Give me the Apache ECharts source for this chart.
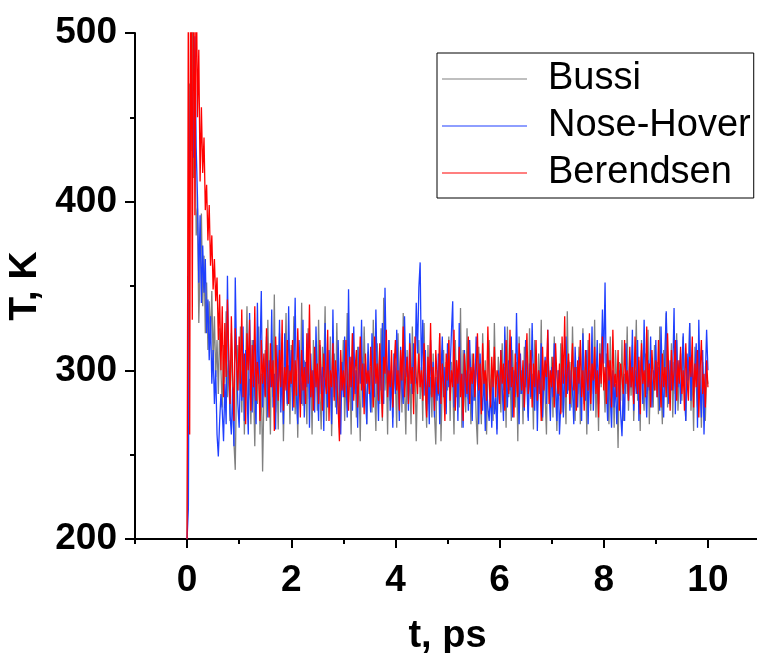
<!DOCTYPE html>
<html><head><meta charset="utf-8">
<script src="https://cdn.jsdelivr.net/npm/echarts@6/dist/echarts.min.js"></script>
<style>html,body{margin:0;padding:0;background:#fff}#c{width:757px;height:653px}</style>
</head><body><div id="c"></div>
<script>
// sampling step of the time axis, ps
const DT = 0.025;
// Bussi thermostat temperature, K (one row = 0.5 ps)
const bussi = [
200,330,470,430,505,414,455,380,396,328,362,393,338,368,322,352,312,341,318,347,
305,332,296,318,286,325,300,278,315,292,335,284,306,270,322,290,257,241,298,315,
288,326,275,310,262,300,338,281,295,268,318,290,255,305,280,326,262,298,240,284,
312,270,330,295,262,318,284,345,275,300,265,322,288,308,258,296,334,279,303,268,
315,287,332,274,298,260,312,285,340,279,306,292,268,325,283,301,262,318,290,307,
276,330,288,265,314,296,338,270,302,283,320,261,294,310,278,328,287,266,305,292,
318,270,296,334,281,305,262,322,289,300,272,314,295,258,308,284,326,293,268,311,
286,302,275,330,290,264,316,298,280,325,270,343,288,305,262,318,282,300,272,310,
294,266,322,285,308,275,334,290,262,312,280,300,268,326,287,305,258,296,318,283,
302,270,328,288,266,315,280,296,272,310,274,256,300,285,322,258,293,312,276,305,
288,320,270,305,292,262,318,284,300,278,337,266,312,290,275,325,283,298,268,310,
282,300,272,256,314,290,268,322,285,306,262,296,318,280,300,270,328,288,265,308,
295,275,316,288,302,266,326,284,298,270,312,290,278,305,258,320,286,300,268,314,
290,305,272,325,283,298,265,318,292,276,310,286,330,270,300,284,262,316,294,280,
308,272,320,290,264,300,285,316,275,298,296,268,335,288,305,278,326,290,270,302,
286,314,268,298,325,280,302,262,318,292,276,308,286,330,272,300,264,316,290,322,
296,275,310,288,268,320,284,300,266,312,292,254,305,282,318,270,298,286,326,276,
302,285,315,270,296,330,282,306,264,318,290,276,310,286,324,268,300,292,278,315,
288,305,274,326,292,268,312,284,334,278,300,290,316,272,305,286,322,276,298,310,
282,320,294,270,306,288,328,276,300,264,314,290,278,318,296,266,305,284,270,298,
292];
// Nose-Hover thermostat temperature, K
const noseHover = [
200,218,430,480,458,426,498,432,402,352,392,340,374,346,366,322,342,306,332,292,
312,280,300,262,249,270,286,276,258,292,268,356,300,274,262,290,255,355,308,280,
266,300,282,326,270,312,288,262,334,295,275,318,285,268,340,292,310,347,278,300,
285,320,272,306,290,336,278,298,265,315,288,330,275,302,268,322,294,280,338,290,
312,276,300,343,285,268,318,296,280,330,272,305,290,322,266,310,284,300,275,326,
292,270,315,286,302,264,328,290,278,312,296,268,336,284,300,274,318,288,262,305,
284,320,296,272,348,290,308,276,326,286,300,266,314,292,330,278,304,288,268,316,
290,275,322,300,284,336,296,270,312,288,328,280,349,304,292,318,276,300,266,310,
286,324,298,270,314,290,280,332,296,308,276,322,300,286,316,292,340,310,349,364,
296,330,285,312,276,300,268,318,290,305,272,296,282,310,268,298,320,284,302,274,
316,290,300,322,341,278,292,306,270,328,288,298,266,312,284,300,276,318,294,270,
304,282,320,296,268,310,286,276,300,264,292,278,270,288,266,296,274,284,262,300,
280,312,290,270,326,296,278,306,288,320,272,300,284,334,292,268,310,286,300,276,
318,290,270,304,284,328,294,276,312,264,300,286,316,272,296,308,280,324,290,270,
302,284,316,292,270,300,262,280,310,272,296,320,286,306,276,300,288,268,314,292,
278,308,290,270,322,296,282,312,268,300,288,326,276,304,292,318,280,310,300,336,
304,352,290,270,306,284,266,300,278,292,268,286,300,274,261,288,270,316,294,282,
306,290,324,276,300,286,318,270,298,312,280,330,292,272,306,288,320,278,300,294,
318,284,302,276,326,290,272,312,335,296,280,306,288,300,337,274,318,290,306,280,
300,322,288,270,310,294,328,282,306,290,298,316,266,330,290,272,312,262,296,324,
300];
// Berendsen thermostat temperature, K
const berendsen = [
200,540,262,590,330,570,392,545,450,490,412,456,417,438,395,410,377,398,362,380,
348,366,341,355,318,345,300,338,284,328,296,342,310,280,332,298,270,325,305,288,
320,292,336,284,310,268,322,300,330,276,315,290,338,282,305,296,270,318,292,310,
284,325,298,272,316,290,306,264,320,296,282,312,290,330,276,302,288,318,280,300,
292,318,278,306,285,325,296,272,312,288,302,280,322,292,339,284,300,276,314,290,
304,280,318,292,276,310,296,286,324,270,300,290,316,282,306,294,278,258,312,288,
300,284,318,294,276,308,290,322,282,300,312,278,296,320,288,304,274,310,292,300,
286,314,296,278,320,292,304,282,316,290,272,308,298,324,284,300,290,312,278,302,
318,288,300,276,312,294,326,284,298,308,280,316,292,302,274,320,296,286,310,290,
300,282,316,294,272,308,290,328,284,302,276,312,296,286,322,280,304,292,270,310,
294,318,282,300,290,324,276,306,292,314,284,298,270,310,296,286,320,280,302,292,
310,284,298,322,288,304,274,316,292,300,282,326,294,278,308,290,314,284,300,296,
280,312,292,304,276,318,296,286,324,290,302,272,310,294,284,316,298,288,306,278,
300,322,286,296,312,278,304,290,318,282,300,294,270,314,288,306,296,324,280,300,
290,308,278,316,296,286,304,274,320,292,332,284,300,310,280,298,316,288,302,276,
306,292,318,284,300,276,312,296,288,322,280,304,294,314,286,300,272,310,292,320,
288,302,280,316,294,306,278,324,290,298,284,312,276,304,296,286,318,292,300,282,
314,290,302,280,320,296,286,308,274,316,292,300,284,326,290,304,278,312,296,288,
306,284,318,294,278,310,290,302,284,322,296,276,312,288,300,318,282,306,292,314,
286,300,276,316,294,282,308,296,320,278,304,290,312,272,300,318,286,298,278,306,
290];
const seriesNames = ['Bussi', 'Nose-Hover', 'Berendsen'];
const seriesColors = ['#808080', '#1f3fff', '#ff0000'];
const xTickValues = [0, 2, 4, 6, 8, 10];
const xMinorTickValues = [-1, 1, 3, 5, 7, 9, 11];

function toPairs(arr) { return arr.map((v, i) => [Math.round(i * DT * 1000) / 1000, v]); }
const FONT = '"Liberation Sans", Arial, Helvetica, sans-serif';
const chart = echarts.init(document.getElementById('c'), null, { renderer: 'canvas' });
chart.setOption({
  animation: false,
  backgroundColor: '#fff',
  grid: { left: 135, top: 33, right: -3, bottom: 114, containLabel: false, outerBoundsMode: 'none' },
  xAxis: [{
    type: 'value', min: -1, max: 11, interval: 1,
    axisLine: { show: true, onZero: false, lineStyle: { color: '#000', width: 2 } },
    axisTick: { show: true, customValues: xTickValues, length: 9, lineStyle: { color: '#000', width: 2 } },
    axisLabel: { customValues: xTickValues, fontSize: 37, fontWeight: 'bold', color: '#000', fontFamily: FONT, margin: 23 },
    splitLine: { show: false },
    name: 't, ps', nameLocation: 'middle', nameGap: 79,
    nameTextStyle: { fontSize: 38, fontWeight: 'bold', color: '#000', fontFamily: FONT }
  }, {
    type: 'value', min: -1, max: 11, position: 'bottom',
    axisLine: { show: false },
    axisTick: { show: true, customValues: xMinorTickValues, length: 5, lineStyle: { color: '#000', width: 2 } },
    axisLabel: { show: false },
    splitLine: { show: false }
  }],
  yAxis: {
    type: 'value', min: 200, max: 500, interval: 100,
    axisLine: { show: true, onZero: false, lineStyle: { color: '#000', width: 2 } },
    axisTick: { show: true, length: 10, lineStyle: { color: '#000', width: 2 } },
    minorTick: { show: true, splitNumber: 2, length: 5, lineStyle: { color: '#000', width: 2 } },
    axisLabel: { fontSize: 37, fontWeight: 'bold', color: '#000', fontFamily: FONT, margin: 18 },
    splitLine: { show: false },
    name: 'T, K', nameLocation: 'middle', nameGap: 82,
    nameTextStyle: { fontSize: 39, fontWeight: 'bold', color: '#000', fontFamily: FONT }
  },
  legend: {
    orient: 'vertical', left: 437, top: 53, padding: [6, 3, 5, 5], itemGap: 7,
    itemWidth: 85, itemHeight: 1, icon: 'rect', selectedMode: false,
    borderColor: '#000', borderWidth: 1, backgroundColor: '#fff',
    textStyle: { fontSize: 38, color: '#000', fontFamily: FONT, lineHeight: 40, padding: [0, 0, 0, 16] },
    data: seriesNames
  },
  series: [bussi, noseHover, berendsen].map((d, i) => ({
    name: seriesNames[i], type: 'line', data: toPairs(d), xAxisIndex: 0,
    showSymbol: false, symbol: 'none', clip: true, z: 2 + i,
    lineStyle: { color: seriesColors[i], width: 1.3 }, itemStyle: { color: seriesColors[i] }
  }))
});
</script></body></html>
